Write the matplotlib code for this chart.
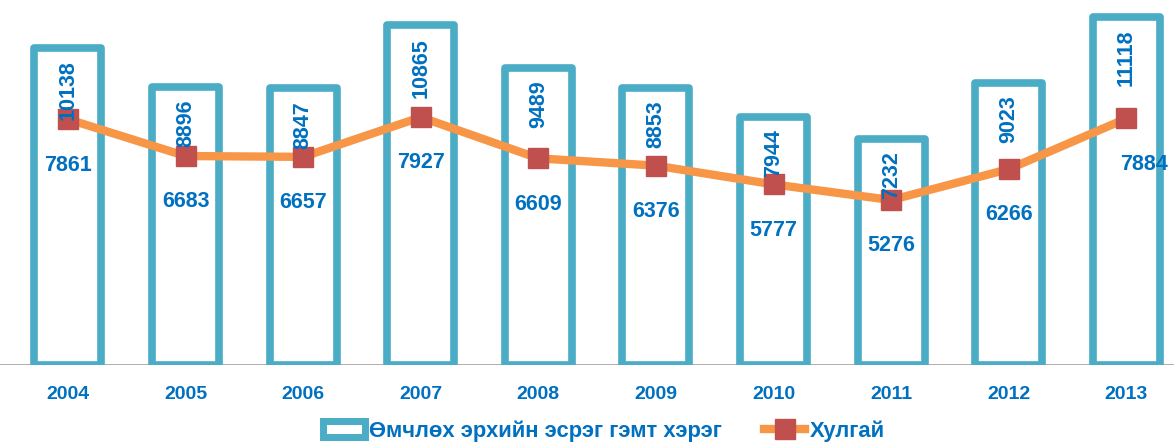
import matplotlib.pyplot as plt
from matplotlib.lines import Line2D
from matplotlib.patches import Patch

plt.rcParams['font.family'] = ['Liberation Sans', 'DejaVu Sans']

years = ['2004', '2005', '2006', '2007', '2008', '2009', '2010', '2011', '2012', '2013']
property_crimes = [10138, 8896, 8847, 10865, 9489, 8853, 7944, 7232, 9023, 11118]
theft = [7861, 6683, 6657, 7927, 6609, 6376, 5777, 5276, 6266, 7884]

teal = '#4BACC6'
orange = '#F79646'
red = '#C0504D'
blue = '#0070C0'

fig = plt.figure(figsize=(11.74, 4.43), dpi=100)
ax = fig.add_axes([0, 0.176, 1, 0.824])

x = range(len(years))
ax.bar(x, property_crimes, width=0.57, color='white', edgecolor=teal,
       linewidth=5.5, joinstyle='round', zorder=2)
ax.plot(x, theft, color=orange, linewidth=6, marker='s', markersize=15,
        markerfacecolor=red, markeredgecolor=red, zorder=3)

# подписи столбцов (вертикально, сверху внутри)
for i, v in enumerate(property_crimes):
    ax.annotate(str(v), (i, v), xytext=(0, -9), textcoords='offset points',
                rotation=90, ha='center', va='top', color=blue,
                fontsize=15.5, fontweight='bold', zorder=4)

# подписи линии под маркерами
for i, v in enumerate(theft):
    dx = 13 if i == len(theft) - 1 else 0
    ax.annotate(str(v), (i, v), xytext=(dx, -33), textcoords='offset points',
                ha='center', va='center', color=blue,
                fontsize=15.5, fontweight='bold', zorder=4)

ax.axhline(0, color='#A0A0A0', linewidth=1.2, zorder=1)
ax.set_xlim(-0.578, 9.405)
ax.set_ylim(0, 11673)
ax.set_xticks(list(x))
ax.set_xticklabels(years, color=blue, fontsize=14, fontweight='bold')
ax.tick_params(axis='x', length=0, pad=15)
ax.set_yticks([])
for s in ax.spines.values():
    s.set_visible(False)

handles = [Patch(facecolor='white', edgecolor=teal, linewidth=5),
           Line2D([], [], color=orange, linewidth=6, marker='s', markersize=15,
                  markerfacecolor=red, markeredgecolor=red)]
labels = ['Өмчлөх эрхийн эсрэг гэмт хэрэг', 'Хулгай']
leg = fig.legend(handles, labels, loc='center', bbox_to_anchor=(604 / 1174, 0.027),
                 ncol=2, frameon=False, handlelength=1.9,
                 handletextpad=0.2, columnspacing=1.9,
                 prop={'weight': 'bold', 'size': 15.8})
for t in leg.get_texts():
    t.set_color(blue)

fig.savefig('out.png', dpi=100)
